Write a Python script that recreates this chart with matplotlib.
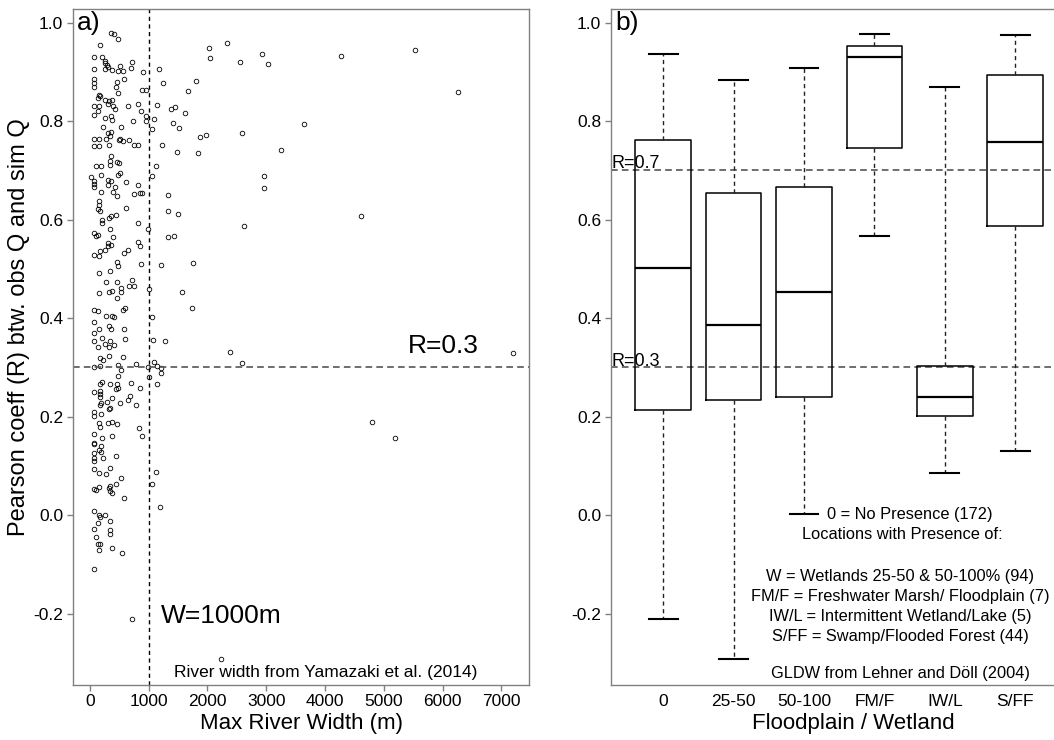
import matplotlib
matplotlib.use("Agg")
import matplotlib.pyplot as plt

plt.rcParams['font.family'] = ['Liberation Sans', 'DejaVu Sans']

# ---- panel a) data: max river width (m) vs Pearson R ----
river_width = [
    359, 404, 472, 171, 75, 200, 257, 257, 285, 722,
    75, 257, 313, 381, 472, 512, 568, 699, 898, 1176,
    586, 75, 75, 75, 461, 449, 483, 1249, 1800, 1675,
    892, 949, 154, 176, 143, 257, 330, 370, 313, 398,
    427, 75, 160, 132, 75, 654, 824, 869, 949, 1142,
    1380, 1448, 1618, 257, 359, 381, 738, 954, 1090, 228,
    523, 313, 359, 1062, 1408, 1516, 75, 160, 268, 342,
    512, 495, 557, 665, 756, 824, 75, 160, 325, 1232,
    1482, 1845, 359, 98, 188, 342, 342, 455, 500, 1125,
    1062, 20, 75, 75, 75, 188, 313, 359, 313, 427,
    472, 512, 614, 824, 880, 188, 398, 466, 744, 852,
    1334, 1334, 1493, 154, 154, 143, 171, 608, 359, 330,
    438, 211, 211, 824, 983, 75, 98, 132, 342, 398,
    1334, 1431,
    313, 359, 313, 824, 852, 75, 154, 171, 257, 580,
    654, 466, 472, 869, 1210, 1760, 154, 342, 274, 455,
    710, 671, 744, 529, 529, 154, 325, 370, 455, 1011,
    1561, 75, 143, 268, 381, 410, 568, 597, 1062, 1742,
    75, 325, 353, 160, 586, 75, 200, 597, 75, 143,
    257, 342, 330, 415, 1079, 1277, 330, 568, 177, 228,
    75, 171, 472, 529, 784, 994, 1005, 1085, 1142, 1210,
    1210, 1147, 483, 466, 472, 171, 200, 342, 75, 171,
    171, 444, 693, 858, 171, 188, 171, 285, 370, 682,
    642, 512, 784, 325, 342, 75, 75, 188, 302, 381,
    455, 154, 171, 75, 200, 381, 835, 880, 75, 75,
    188, 154, 188, 228, 438, 75, 75, 75, 342,
    75, 154, 274, 529, 444, 75, 98, 154, 342, 330,
    342, 370, 586, 75, 154, 171, 257, 342, 132, 75,
    342, 342, 98, 132, 171, 160, 381, 552, 75, 710,
    1125, 1062, 1193,
    2033, 2044, 2328, 2555, 2924, 3026, 4274, 5539, 6271, 1874,
    1976, 2595, 3650, 3258, 2969, 2963, 4614, 2623,
    2385, 2595, 7195, 4796, 5187, 2225,
]
pearson_r = [
    0.978, 0.976, 0.966, 0.955, 0.930, 0.930, 0.923, 0.917, 0.914, 0.920,
    0.905, 0.905, 0.909, 0.904, 0.901, 0.911, 0.901, 0.907, 0.899, 0.906,
    0.886, 0.885, 0.877, 0.870, 0.880, 0.869, 0.857, 0.878, 0.882, 0.861,
    0.863, 0.863, 0.853, 0.850, 0.846, 0.843, 0.840, 0.843, 0.835, 0.831,
    0.824, 0.831, 0.831, 0.821, 0.813, 0.831, 0.835, 0.820, 0.811, 0.832,
    0.825, 0.828, 0.816, 0.806, 0.811, 0.803, 0.801, 0.801, 0.805, 0.787,
    0.789, 0.776, 0.778, 0.784, 0.797, 0.786, 0.763, 0.763, 0.763, 0.769,
    0.763, 0.761, 0.759, 0.761, 0.751, 0.752, 0.749, 0.749, 0.751, 0.751,
    0.738, 0.735, 0.730, 0.708, 0.709, 0.718, 0.711, 0.716, 0.715, 0.708,
    0.688, 0.686, 0.678, 0.673, 0.667, 0.691, 0.681, 0.678, 0.671, 0.667,
    0.691, 0.694, 0.676, 0.671, 0.654, 0.657, 0.657, 0.647, 0.652, 0.655,
    0.650, 0.618, 0.611, 0.637, 0.630, 0.621, 0.617, 0.623, 0.607, 0.603,
    0.610, 0.600, 0.594, 0.594, 0.580, 0.573, 0.566, 0.569, 0.581, 0.565,
    0.565, 0.566,
    0.553, 0.549, 0.546, 0.554, 0.547, 0.529, 0.527, 0.536, 0.538, 0.532,
    0.538, 0.513, 0.505, 0.509, 0.507, 0.512, 0.492, 0.496, 0.473, 0.474,
    0.477, 0.466, 0.466, 0.461, 0.453, 0.451, 0.452, 0.454, 0.440, 0.459,
    0.452, 0.417, 0.414, 0.405, 0.405, 0.402, 0.417, 0.421, 0.402, 0.421,
    0.392, 0.384, 0.378, 0.377, 0.377, 0.370, 0.360, 0.358, 0.353, 0.342,
    0.348, 0.353, 0.342, 0.346, 0.355, 0.353, 0.323, 0.321, 0.319, 0.315,
    0.301, 0.302, 0.304, 0.294, 0.307, 0.301, 0.281, 0.311, 0.302, 0.299,
    0.289, 0.267, 0.282, 0.267, 0.259, 0.267, 0.270, 0.267, 0.250, 0.252,
    0.245, 0.256, 0.269, 0.259, 0.240, 0.228, 0.223, 0.230, 0.238, 0.242,
    0.233, 0.228, 0.223, 0.215, 0.217, 0.209, 0.201, 0.206, 0.186, 0.189,
    0.185, 0.186, 0.179, 0.164, 0.157, 0.160, 0.177, 0.160, 0.147, 0.144,
    0.140, 0.133, 0.129, 0.116, 0.120, 0.127, 0.115, 0.110, 0.096,
    0.093, 0.085, 0.083, 0.076, 0.064, 0.052, 0.051, 0.058, 0.060, 0.054,
    0.049, 0.044, 0.035, 0.008, 0.001, -0.003, 0.001, -0.011, -0.017, -0.028,
    -0.031, -0.038, -0.044, -0.058, -0.058, -0.070, -0.066, -0.076, -0.110, -0.210,
    0.088, 0.064, 0.017,
    0.949, 0.928, 0.958, 0.920, 0.936, 0.916, 0.932, 0.945, 0.859, 0.767,
    0.772, 0.776, 0.794, 0.742, 0.688, 0.664, 0.607, 0.587,
    0.331, 0.309, 0.329, 0.190, 0.157, -0.293,
]

# ---- panel b) box plot statistics ----
classes = ['0', '25-50', '50-100', 'FM/F', 'IW/L', 'S/FF']
whisk_lo = [-0.210, -0.293, 0.003, 0.567, 0.085, 0.131]
q1 = [0.214, 0.233, 0.240, 0.746, 0.201, 0.587]
median = [0.501, 0.385, 0.452, 0.930, 0.239, 0.758]
q3 = [0.761, 0.655, 0.667, 0.953, 0.302, 0.893]
whisk_hi = [0.936, 0.884, 0.907, 0.976, 0.870, 0.975]

legend_lines = [
    'W = Wetlands 25-50 & 50-100% (94)',
    'FM/F = Freshwater Marsh/ Floodplain (7)',
    'IW/L = Intermittent Wetland/Lake (5)',
    'S/FF = Swamp/Flooded Forest (44)',
]

W, H = 1054, 740
fig = plt.figure(figsize=(W / 100, H / 100), dpi=100)
bottom = 1 - 684.5 / H
height = (684.5 - 9.3) / H
ax1 = fig.add_axes([73 / W, bottom, 456.3 / W, height])
ax2 = fig.add_axes([611 / W, bottom, 456.3 / W, height])

spine_col = '#808080'
for ax in (ax1, ax2):
    for s in ax.spines.values():
        s.set_color(spine_col)
        s.set_linewidth(1.0)
    ax.set_ylim(-0.344, 1.027)
    ax.set_yticks([-0.2, 0.0, 0.2, 0.4, 0.6, 0.8, 1.0])
    ax.set_yticklabels(['-0.2', '0.0', '0.2', '0.4', '0.6', '0.8', '1.0'])
    ax.tick_params(axis='y', colors=spine_col, labelcolor='black', length=4, width=1,
                   pad=3, labelsize=12.5)

# panel a
ax1.plot(river_width, pearson_r, 'o', ms=3.3, mfc='none', mec='black', mew=0.6)
ax1.axvline(1000, color='black', lw=1.0, ls=(0, (3, 2.5)))
ax1.axhline(0.3, color='#555555', lw=1.2, ls=(0, (4, 2.5)))
ax1.set_xlim(-288, 7477)
ax1.set_xticks(range(0, 7001, 1000))
ax1.tick_params(axis='x', colors=spine_col, labelcolor='black', length=4, width=1,
                pad=3, labelsize=12.5)
ax1.text(0.009, 0.997, 'a)', transform=ax1.transAxes, fontsize=19, va='top', ha='left')
ax1.text(6020, 0.329, 'R=0.3', fontsize=19, ha='center', va='baseline')
ax1.text(1205, -0.219, 'W=1000m', fontsize=19, ha='left', va='baseline')
ax1.text(4013, -0.328, 'River width from Yamazaki et al. (2014)', fontsize=12.5,
         ha='center', va='baseline')

# panel b
stats = []
for i in range(len(classes)):
    stats.append(dict(med=median[i], q1=q1[i], q3=q3[i],
                      whislo=whisk_lo[i], whishi=whisk_hi[i], fliers=[]))
ax2.axhline(0.7, color='#555555', lw=1.2, ls=(0, (4, 2.5)))
ax2.axhline(0.3, color='#555555', lw=1.2, ls=(0, (4, 2.5)))
ax2.bxp(stats, positions=range(1, len(classes) + 1), widths=0.79, capwidths=0.41,
        showfliers=False,
        boxprops=dict(color='black', lw=1.1),
        medianprops=dict(color='black', lw=1.6),
        whiskerprops=dict(color='#222222', lw=1.0, ls=(0, (3, 2.5))),
        capprops=dict(color='black', lw=1.5))
ax2.set_xlim(0.26, 6.74)
ax2.set_xticks(range(1, len(classes) + 1))
ax2.set_xticklabels(classes)
ax2.tick_params(axis='x', length=0, pad=7, labelsize=12.5)
ax2.text(0.009, 0.997, 'b)', transform=ax2.transAxes, fontsize=19, va='top', ha='left')
ax2.text(0.27, 0.705, 'R=0.7', fontsize=13, ha='left', va='baseline')
ax2.text(0.27, 0.303, 'R=0.3', fontsize=13, ha='left', va='baseline')

ax2.text(4.50, -0.007, '0 = No Presence (172)', fontsize=11.8, ha='center', va='baseline')
ax2.text(4.40, -0.049, 'Locations with Presence of:', fontsize=11.8, ha='center', va='baseline')
ys = [-0.134, -0.174, -0.215, -0.255]
for txt, yy in zip(legend_lines, ys):
    ax2.text(4.37, yy, txt, fontsize=11.8, ha='center', va='baseline')
ax2.text(4.37, -0.331, 'GLDW from Lehner and Döll (2004)', fontsize=11.8,
         ha='center', va='baseline')

# axis titles
fig.text(19 / W, 1 - 327 / H, 'Pearson coeff (R) btw. obs Q and sim Q', rotation=90,
         fontsize=17, ha='center', va='center')
fig.text(301 / W, 1 - 723 / H, 'Max River Width (m)', fontsize=16, ha='center', va='center')
fig.text(853 / W, 1 - 723 / H, 'Floodplain / Wetland', fontsize=16, ha='center', va='center')

fig.savefig('out.png', dpi=100)
